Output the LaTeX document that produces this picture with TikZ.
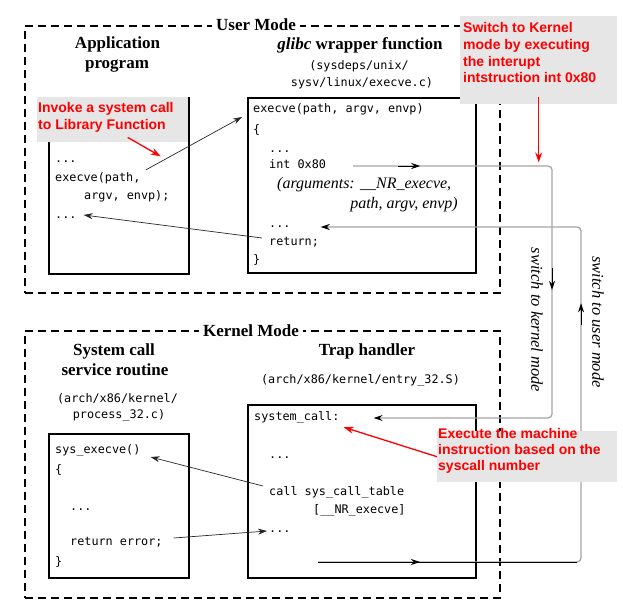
\documentclass[tikz,border=0pt]{standalone}
\usepackage{fontspec}
\setmainfont{Liberation Serif}
\setmonofont{DejaVu Sans Mono}
\newfontfamily\notefont{Liberation Sans}
\usetikzlibrary{arrows.meta,calc,decorations.markings}

\definecolor{notebg}{RGB}{230,230,230}
\definecolor{notered}{RGB}{255,0,0}
\definecolor{pathgray}{RGB}{165,165,165}

% short black arrow placed on the grey mode-switch paths
\newcommand\midtip{\draw[black, line width=0.9pt, -{Stealth[length=9pt,width=6pt]}] (-22pt,0pt) -- (0pt,0pt);}

\tikzset{
  modebox/.style={draw, line width=1.6pt, dash pattern=on 8pt off 5pt, anchor=north west},
  codebox/.style={draw, line width=1.6pt, anchor=north west},
  modetitle/.style={fill=white, inner xsep=4pt, inner ysep=2pt, anchor=base,
    font=\fontsize{17}{20}\selectfont\bfseries},
  heading/.style={anchor=base, inner sep=0pt, font=\fontsize{17}{20}\selectfont\bfseries},
  pathlabel/.style={anchor=base, inner sep=0pt, font=\fontsize{11.8}{14}\selectfont\ttfamily},
  src/.style={anchor=base west, inner sep=0pt, text height=8.5pt, text depth=2.5pt,
    font=\fontsize{11.8}{14}\selectfont\ttfamily},
  argtext/.style={anchor=base west, inner sep=0pt, font=\fontsize{16}{18}\selectfont\itshape},
  callarrow/.style={draw=black!85, line width=0.7pt, -{Stealth[length=9pt,width=6pt]}},
  notebox/.style={fill=notebg, inner sep=0pt, anchor=north west},
  notetext/.style={anchor=base west, inner sep=0pt, text=notered,
    font=\fontsize{14}{16.3}\selectfont\notefont\bfseries},
  notearrow/.style={draw=notered, line width=1.3pt, -{Stealth[length=10pt,width=7pt]}},
  modepath/.style={draw=pathgray, line width=1.3pt, rounded corners=4pt,
    -{Stealth[length=9pt,width=6pt,color=black]}},
  kernmarks/.style={postaction={decorate}, decoration={markings,
    mark=at position 67pt with {\midtip}, mark=at position 321pt with {\midtip}}},
  usermarks/.style={postaction={decorate}, decoration={markings,
    mark=at position 102pt with {\midtip}, mark=at position 520pt with {\midtip}}},
  switchlabel/.style={inner sep=0pt, rotate=-90, font=\fontsize{16.5}{18}\selectfont\itshape},
}

\begin{document}
\begin{tikzpicture}[x=1pt,y=-1pt]
\useasboundingbox (0,0) rectangle (623,607);

% ---- mode frames ----
\node[modebox, minimum width=475pt, minimum height=267pt] (userbox) at (24,25) {};
\node[modebox, minimum width=475pt, minimum height=267pt] (kernbox) at (24,330) {};
\node[modetitle] (usertitle) at (256,31) {User Mode};
\node[modetitle] (kerntitle) at (251,336) {Kernel Mode};

% ---- headings ----
\node[heading] (apptitleA) at (117.5,49) {Application};
\node[heading] (apptitleB) at (117,69) {program};
\node[heading] (gtitle) at (360,50) {\textit{glibc} wrapper function};
\node[pathlabel] (gpathA) at (359,70) {(sysdeps/unix/};
\node[pathlabel] (gpathB) at (362,87) {sysv/linux/execve.c)};
\node[heading] (svctitleA) at (114,355) {System call};
\node[heading] (svctitleB) at (115,375) {service routine};
\node[pathlabel] (svcpathA) at (117.5,402) {(arch/x86/kernel/};
\node[pathlabel] (svcpathB) at (119,418) {process\_32.c)};
\node[heading] (traptitle) at (367,355) {Trap handler};
\node[pathlabel] (trappath) at (360.5,383) {(arch/x86/kernel/entry\_32.S)};

% ---- code boxes ----
\node[codebox, minimum width=140pt, minimum height=176pt] (appbox) at (48,97) {};
\node[codebox, minimum width=228pt, minimum height=175pt] (glibcbox) at (247,97) {};
\node[codebox, minimum width=140pt, minimum height=144pt] (svcbox) at (48,433) {};
\node[codebox, minimum width=228pt, minimum height=173pt] (trapbox) at (247,404) {};

% application program
\node[src] (appdotsA) at (55,162) {...};
\node[src] (appcall) at (55,181) {execve(path,};
\node[src] (appargs) at (84,199) {argv, envp);};
\node[src] (appdotsB) at (55,218) {...};

% glibc wrapper
\node[src] (gsig) at (253,113) {execve(path, argv, envp)};
\node[src] (gopen) at (253,133) {\{};
\node[src] (gdotsA) at (269,152) {...};
\node[src] (gint) at (269,168) {int 0x80};
\node[argtext] (gargsA) at (277,188) {(arguments: \_\_NR\_execve,};
\node[argtext, anchor=base east] (gargsB) at (458,208) {path, argv, envp)};
\node[src] (gdotsB) at (269,227) {...};
\node[src] (gret) at (269,245) {return;};
\node[src] (gclose) at (253,263) {\}};

% service routine
\node[src] (sexec) at (55,453) {sys\_execve()};
\node[src] (sopen) at (55,473) {\{};
\node[src] (sdots) at (70,510) {...};
\node[src] (serr) at (70,545) {return error;};
\node[src] (sclose) at (55,565) {\}};

% trap handler
\node[src] (tsys) at (254,420) {system\_call:};
\node[src] (tdotsA) at (269,458) {...};
\node[src] (tcall) at (269,495) {call sys\_call\_table};
\node[src] (tidx) at (313,513) {[\_\_NR\_execve]};
\node[src] (tdotsB) at (269,532) {...};

% ---- calls and returns ----
\draw[callarrow] ($(appcall.east)+(5,-8)$) -- ($(gsig.west)+(-11,7)$);
\draw[callarrow] ($(gret.west)+(-7,-4)$) -- ($(appdotsB.east)+(7,0)$);
\draw[callarrow] ($(tcall.west)+(-6,-6)$) -- ($(sexec.east)+(10,7)$);
\draw[callarrow] ($(serr.east)+(11,-4)$) -- ($(tdotsB.west)+(-2,2)$);

% ---- mode switches ----
\coordinate (k0) at ($(gint.east)+(27,1)$);
\coordinate (kc1) at (552,166);
\coordinate (kc2) at (552,418);
\coordinate (k1) at ($(tsys.east)+(34,1)$);
\draw[modepath, kernmarks] (k0) -- (kc1) -- (kc2) -- (k1);

\coordinate (u0) at (318,562);
\coordinate (uc1) at (581,562);
\coordinate (uc2) at (581,227);
\coordinate (u1) at ($(gdotsB.east)+(30,3)$);
\draw[modepath, usermarks] (u0) -- (uc1) -- (uc2) -- (u1);
\draw[black, line width=0.9pt] (u0) -- ($(uc1)+(-4,0)$);

\node[switchlabel] (lblk) at (537,320) {switch to kernel mode};
\node[switchlabel] (lblu) at (598,322) {switch to user mode};

% ---- notes ----
\node[notebox, minimum width=151pt, minimum height=45pt] (note1) at (37,97) {};
\node[notetext] (note1a) at (38,113) {Invoke a system call};
\node[notetext] (note1b) at (38,129) {to Library Function};
\node[notebox, minimum width=157pt, minimum height=88pt] (note2) at (460,16) {};
\node[notetext] (note2a) at (463,33) {Switch to Kernel};
\node[notetext] (note2b) at (463,50) {mode by executing};
\node[notetext] (note2c) at (463,67) {the interupt};
\node[notetext] (note2d) at (463,83) {intstruction int 0x80};
\node[notebox, minimum width=180pt, minimum height=51pt] (note3) at (437,431) {};
\node[notetext] (note3a) at (438,438) {Execute the machine};
\node[notetext] (note3b) at (438,454) {instruction based on the};
\node[notetext] (note3c) at (438,470) {syscall number};

\draw[notearrow] ($(note1.south)+(15,-5)$) -- ($(appcall.north east)+(20,-16)$);
\draw[notearrow] ($(note2.south)+(0,-7)$) -- ($(note2.south)+(0,58)$);
\draw[notearrow] (note3.west) -- ($(tsys.south east)+(4,4.5)$);
\end{tikzpicture}
\end{document}
